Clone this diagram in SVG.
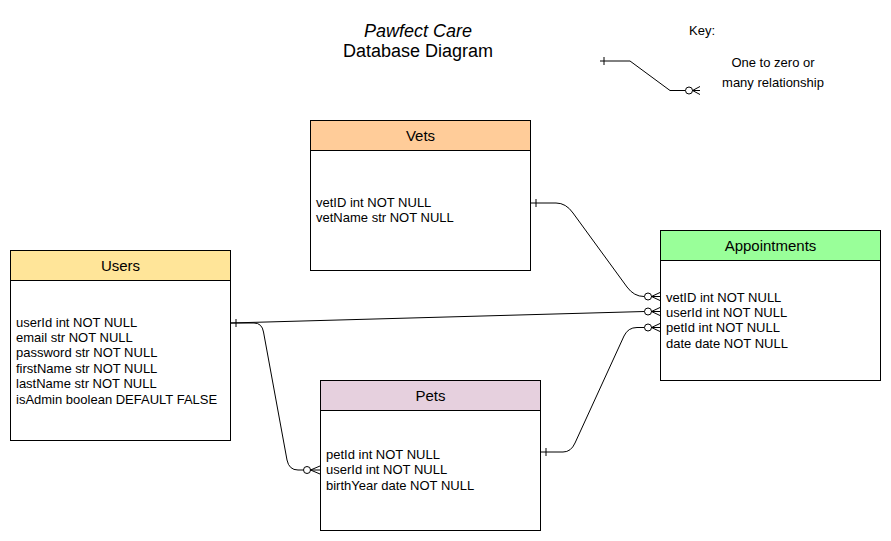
<svg xmlns="http://www.w3.org/2000/svg" width="891" height="541" viewBox="0 0 891 541">
<style>
text{font-family:"Liberation Sans",Arial,sans-serif;fill:#000}
.box{fill:#fff;stroke:#000;stroke-width:1}
.hdr{stroke:#000;stroke-width:1}
.h{font-size:15px;text-anchor:middle}
.f{font-size:13px}
.c{fill:none;stroke:#000;stroke-width:1}
.o{fill:#fff;stroke:#000;stroke-width:1}
</style>
<rect width="891" height="541" fill="#fff"/>
<g id="title">
<text x="418" y="36.5" font-size="18" font-style="italic" text-anchor="middle">Pawfect Care</text>
<text x="418" y="56.5" font-size="18" text-anchor="middle">Database Diagram</text>
</g>
<g id="key">
<text x="702" y="35" class="f" text-anchor="middle">Key:</text>
<text x="773" y="66.5" class="f" text-anchor="middle">One to zero or</text>
<text x="773" y="86.5" class="f" text-anchor="middle">many relationship</text>
<path class="c" d="M600 61 L630 61 L670 90.5 L685.5 90.5"/>
<path class="c" d="M604 57 L604 65"/>
<circle class="o" cx="689" cy="90.5" r="3.5"/>
<path class="c" d="M692.5 90.5 L700 86.5 M692.5 90.5 L700 90.5 M692.5 90.5 L700 94.5"/>
</g>
<g id="users">
<rect class="box" x="10.5" y="250.5" width="220" height="190"/>
<rect class="hdr" x="10.5" y="250.5" width="220" height="30" fill="#FFE599"/>
<text class="h" x="120.5" y="271">Users</text>
<text class="f" x="16" y="326.5">userId int NOT NULL</text>
<text class="f" x="16" y="341.9">email str NOT NULL</text>
<text class="f" x="16" y="357.3">password str NOT NULL</text>
<text class="f" x="16" y="372.7">firstName str NOT NULL</text>
<text class="f" x="16" y="388.1">lastName str NOT NULL</text>
<text class="f" x="16" y="403.5">isAdmin boolean DEFAULT FALSE</text>
</g>
<g id="vets">
<rect class="box" x="310.5" y="120.5" width="220" height="150"/>
<rect class="hdr" x="310.5" y="120.5" width="220" height="30" fill="#FFCC99"/>
<text class="h" x="420.5" y="141">Vets</text>
<text class="f" x="316" y="206.5">vetID int NOT NULL</text>
<text class="f" x="316" y="221.9">vetName str NOT NULL</text>
</g>
<g id="appointments">
<rect class="box" x="660.5" y="230.5" width="220" height="150"/>
<rect class="hdr" x="660.5" y="230.5" width="220" height="30" fill="#99FF99"/>
<text class="h" x="770.5" y="251">Appointments</text>
<text class="f" x="666" y="301.5">vetID int NOT NULL</text>
<text class="f" x="666" y="316.9">userId int NOT NULL</text>
<text class="f" x="666" y="332.3">petId int NOT NULL</text>
<text class="f" x="666" y="347.7">date date NOT NULL</text>
</g>
<g id="pets">
<rect class="box" x="320.5" y="380.5" width="220" height="150"/>
<rect class="hdr" x="320.5" y="380.5" width="220" height="30" fill="#E6D0DE"/>
<text class="h" x="430.5" y="401">Pets</text>
<text class="f" x="326" y="458.5">petId int NOT NULL</text>
<text class="f" x="326" y="474.1">userId int NOT NULL</text>
<text class="f" x="326" y="489.7">birthYear date NOT NULL</text>
</g>
<g id="connectors">
<!-- Vets to Appointments -->
<path class="c" d="M530.5 203 L556 203 Q566 203 573 213 L627 287 Q634 296.5 644 296.5 L644.5 296.5"/>
<path class="c" d="M536 199 L536 207"/>
<circle class="o" cx="648" cy="296.5" r="3.5"/>
<path class="c" d="M651.5 296.5 L660 292.5 M651.5 296.5 L660 296.5 M651.5 296.5 L660 300.5"/>
<!-- Users to Appointments -->
<path class="c" d="M230.5 323 L644.5 311.5"/>
<path class="c" d="M236 319 L236 327"/>
<circle class="o" cx="648" cy="311.5" r="3.5"/>
<path class="c" d="M651.5 311.5 L660 307.5 M651.5 311.5 L660 311.5 M651.5 311.5 L660 315.5"/>
<!-- Users to Pets -->
<path class="c" d="M230.5 323 L254 323 Q262 323 263.5 332 L287 460 Q289 470 298 470 L303.5 470"/>
<circle class="o" cx="307" cy="470" r="3.5"/>
<path class="c" d="M310.5 470 L320 466 M310.5 470 L320 470 M310.5 470 L320 474"/>
<!-- Pets to Appointments -->
<path class="c" d="M540.5 452 L563 452 Q571 452 575 443 L624 336 Q628 327.5 637 327.5 L644.5 327.5"/>
<path class="c" d="M546 448 L546 456"/>
<circle class="o" cx="648" cy="327.5" r="3.5"/>
<path class="c" d="M651.5 327.5 L660 323.5 M651.5 327.5 L660 327.5 M651.5 327.5 L660 331.5"/>
</g>
</svg>
